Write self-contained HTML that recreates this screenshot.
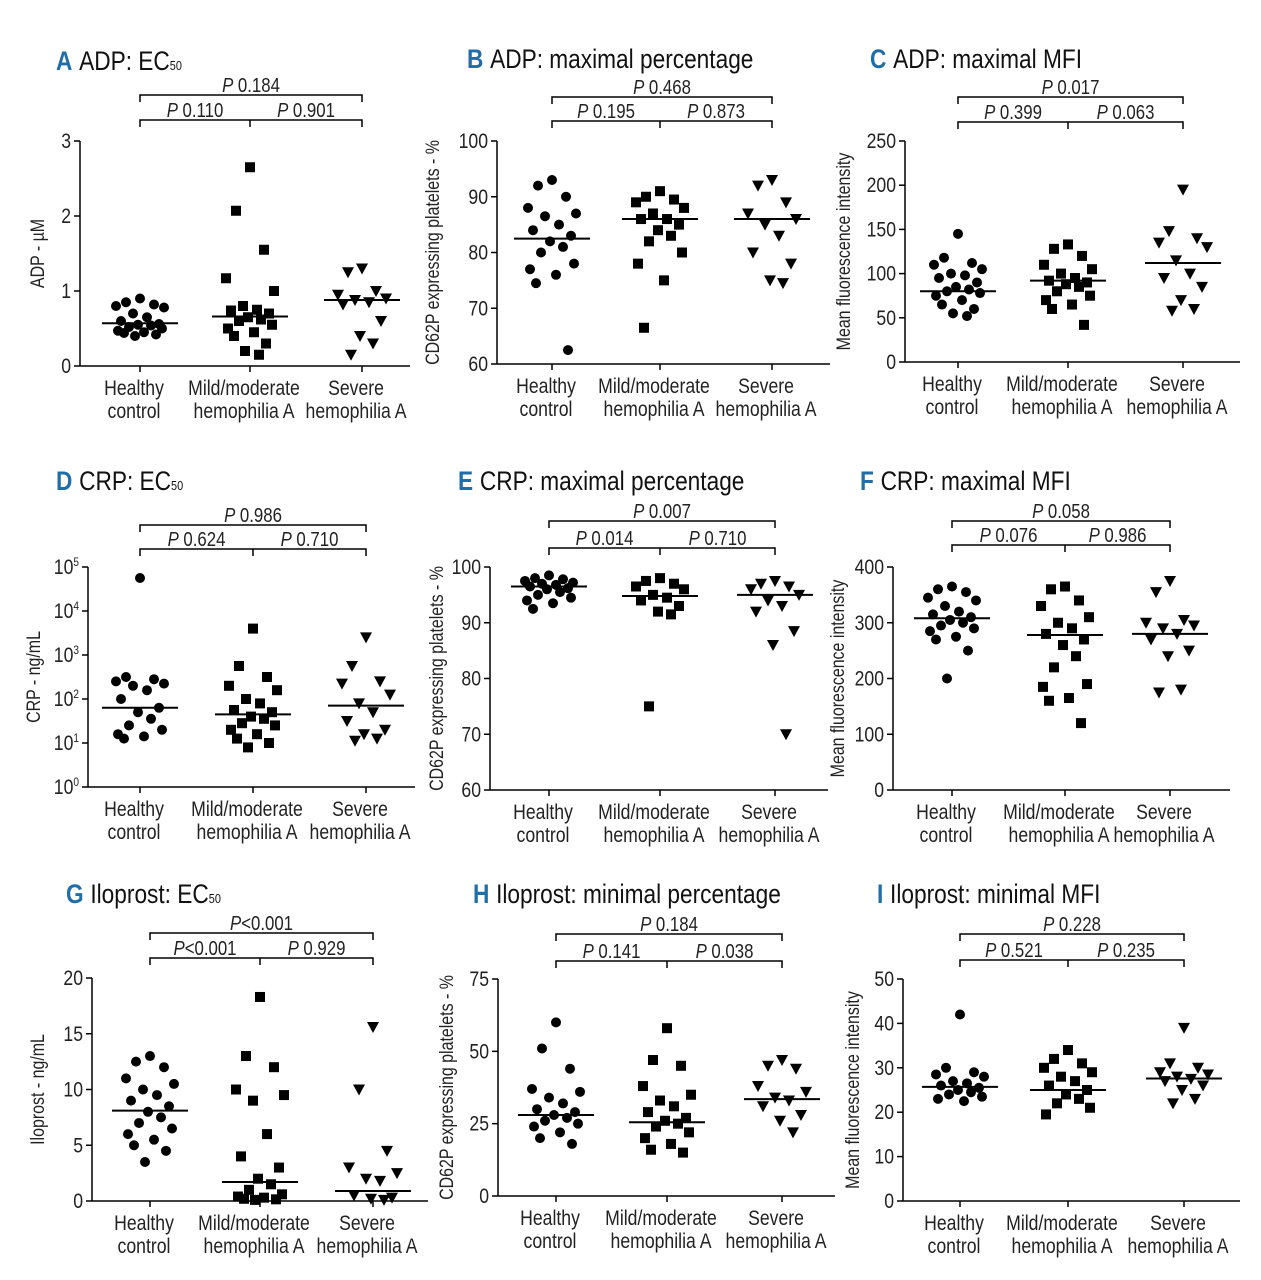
<!DOCTYPE html>
<html><head><meta charset="utf-8">
<style>
html,body{margin:0;padding:0;background:#fff;}
svg{display:block;font-family:"Liberation Sans",sans-serif;}
</style></head>
<body>
<svg id="chart" width="1261" height="1280" viewBox="0 0 1261 1280" xmlns="http://www.w3.org/2000/svg"></svg>
<script>
const categories = [["Healthy","control"],["Mild/moderate","hemophilia A"],["Severe","hemophilia A"]];
// Panel A
const aHealthy=[0.9,0.85,0.82,0.8,0.78,0.7,0.65,0.6,0.56,0.55,0.54,0.52,0.5,0.47,0.45,0.44,0.42,0.4];
const aMild=[2.65,2.07,1.55,1.17,1.0,0.8,0.75,0.74,0.7,0.65,0.62,0.6,0.55,0.5,0.45,0.4,0.3,0.2,0.15];
const aSevere=[1.3,1.25,1.0,0.95,0.9,0.88,0.85,0.82,0.6,0.4,0.3,0.15];
const aMeans=[0.57,0.66,0.88];
const aPvals=["P 0.184","P 0.110","P 0.901"];
// Panel B
const bHealthy=[93,92,90,88,87,86.5,85,84,83,82,81,80,78,77,76,74.5,62.5];
const bMild=[91,90,89.5,89,88,87,86,86,85,84,83,82,80,78,75,66.5];
const bSevere=[93,92,89,87,86,85,83,80,78,75,74.5];
const bMeans=[82.5,86,86];
const bPvals=["P 0.468","P 0.195","P 0.873"];
// Panel C
const cHealthy=[145,118,112,110,105,100,98,95,90,85,82,80,78,75,70,65,60,55,52];
const cMild=[133,128,120,110,105,100,95,92,90,88,85,80,75,70,65,60,42];
const cSevere=[195,148,140,135,130,115,100,95,85,70,60,58];
const cMeans=[80,92,112];
const cPvals=["P 0.017","P 0.399","P 0.063"];
// Panel D (log10 values)
const dHealthy=[4.75,2.5,2.45,2.4,2.35,2.3,2.2,2.0,1.8,1.7,1.55,1.4,1.3,1.2,1.15,1.1];
const dMild=[3.6,2.75,2.5,2.3,2.2,2.0,1.9,1.75,1.7,1.6,1.55,1.45,1.4,1.3,1.2,1.1,1.0,0.9];
const dSevere=[3.4,2.75,2.4,2.35,2.1,1.9,1.7,1.5,1.3,1.2,1.1,1.05];
const dMeans=[1.8,1.65,1.85];
const dPvals=["P 0.986","P 0.624","P 0.710"];
// Panel E
const eHealthy=[98.5,98,97.8,97.5,97.2,97,96.8,96.5,96.2,96,95.5,95,94.5,94,93.5,92.5];
const eMild=[98,97.5,97,96.5,96,95,94.5,94,93,92,91.5,75];
const eSevere=[97.5,97,96.5,96,95,94,93,92,88.5,86,70];
const eMeans=[96.5,94.8,95];
const ePvals=["P 0.007","P 0.014","P 0.710"];
// Panel F
const fHealthy=[365,360,355,345,340,330,320,315,310,305,300,295,290,285,275,270,250,200];
const fMild=[365,360,340,330,310,300,290,280,270,260,240,220,190,185,165,160,120];
const fSevere=[375,355,305,300,295,290,280,270,250,240,180,175];
const fMeans=[308,278,280];
const fPvals=["P 0.058","P 0.076","P 0.986"];
// Panel G
const gHealthy=[13,12.5,12,11,10.5,10,9.5,9,8.5,8,7.5,7,6.5,6,5.5,5,4.5,3.5];
const gMild=[18.3,13,12,10,9.5,9,6,4,3,2,1.5,1,0.6,0.4,0.3,0.2,0.15,0.1];
const gSevere=[15.6,10,4.5,3,2.5,2,1.8,0.5,0.3,0.2,0.1];
const gMeans=[8.1,1.7,0.9];
const gPvals=["P<0.001","P<0.001","P 0.929"];
// Panel H
const hHealthy=[60,51,44,37,36,34,32,30,29,28,27,26,25,24,22,20,18];
const hMild=[58,47,45,38,35,33,31,29,27,26,25,24,22,20,18,16,15];
const hSevere=[47,45,44,38,36,34,33,31,28,26,22];
const hMeans=[28,25.5,33.5];
const hPvals=["P 0.184","P 0.141","P 0.038"];
// Panel I
const iHealthy=[42,30,29,28.5,28,27,26.5,26,25.5,25,24.5,24,23.5,23,22.5];
const iMild=[34,32,31,30,29,28,27,26,25,24,23,22,21,19.5];
const iSevere=[39,31,30,29,28.5,28,27.5,27,26,25,23,22];
const iMeans=[25.7,25,27.6];
const iPvals=["P 0.228","P 0.521","P 0.235"];

const NS="http://www.w3.org/2000/svg";
const svg=document.getElementById('chart');
function mk(tag,attrs,parent){const e=document.createElementNS(NS,tag);for(const k in attrs)e.setAttribute(k,attrs[k]);(parent||svg).appendChild(e);return e;}
// condensed text helper
const SX=0.84;
function ctext(x,y,attrs,parent,rot){
 const a=Object.assign({x:0,y:0,transform:`translate(${x} ${y})${rot?' rotate(-90)':''} scale(${SX} 1)`},attrs);
 return mk('text',a,parent);
}
const jit=[0,-14,14,-24,24,-7,7,-19,19,-2,11,-11,22,-22,4,-16,16,-5,9];

const panels=[
 {id:'a',L:'A',title:'ADP: EC',sub:'50',tx:56,ty:70,ax:80,x1:410,yT:141,yB:366,min:0,max:3,ticks:[0,1,2,3],cx:[140,250,362],data:[aHealthy,aMild,aSevere],means:aMeans,p:aPvals,bt:95,bl:120,yl:'ADP - µM',ylx:44},
 {id:'b',L:'B',title:'ADP: maximal percentage',tx:467,ty:68,ax:497,x1:830,yT:141,yB:364,min:60,max:100,ticks:[60,70,80,90,100],cx:[552,660,772],data:[bHealthy,bMild,bSevere],means:bMeans,p:bPvals,bt:97,bl:121,yl:'CD62P expressing platelets - %',ylx:439},
 {id:'c',L:'C',title:'ADP: maximal MFI',tx:870,ty:68,ax:905,x1:1240,yT:141,yB:362,min:0,max:250,ticks:[0,50,100,150,200,250],cx:[958,1068,1183],data:[cHealthy,cMild,cSevere],means:cMeans,p:cPvals,bt:97,bl:122,yl:'Mean fluorescence intensity',ylx:850},
 {id:'d',L:'D',title:'CRP: EC',sub:'50',tx:56,ty:490,ax:88,x1:415,yT:567,yB:787,min:0,max:5,ticks:[0,1,2,3,4,5],log:true,cx:[140,253,366],data:[dHealthy,dMild,dSevere],means:dMeans,p:dPvals,bt:525,bl:549,yl:'CRP - ng/mL',ylx:40},
 {id:'e',L:'E',title:'CRP: maximal percentage',tx:458,ty:490,ax:490,x1:828,yT:567,yB:790,min:60,max:100,ticks:[60,70,80,90,100],cx:[549,660,775],data:[eHealthy,eMild,eSevere],means:eMeans,p:ePvals,bt:521,bl:548,yl:'CD62P expressing platelets - %',ylx:443},
 {id:'f',L:'F',title:'CRP: maximal MFI',tx:860,ty:490,ax:893,x1:1230,yT:567,yB:790,min:0,max:400,ticks:[0,100,200,300,400],cx:[952,1065,1170],data:[fHealthy,fMild,fSevere],means:fMeans,p:fPvals,bt:521,bl:545,yl:'Mean fluorescence intensity',ylx:844},
 {id:'g',L:'G',title:'Iloprost: EC',sub:'50',tx:66,ty:903,ax:92,x1:428,yT:978,yB:1201,min:0,max:20,ticks:[0,5,10,15,20],cx:[150,260,373],data:[gHealthy,gMild,gSevere],means:gMeans,p:gPvals,bt:933,bl:958,yl:'Iloprost - ng/mL',ylx:44},
 {id:'h',L:'H',title:'Iloprost: minimal percentage',tx:473,ty:903,ax:498,x1:835,yT:979,yB:1196,min:0,max:75,ticks:[0,25,50,75],cx:[556,667,782],data:[hHealthy,hMild,hSevere],means:hMeans,p:hPvals,bt:934,bl:961,yl:'CD62P expressing platelets - %',ylx:453},
 {id:'i',L:'I',title:'Iloprost: minimal MFI',tx:877,ty:903,ax:903,x1:1240,yT:979,yB:1201,min:0,max:50,ticks:[0,10,20,30,40,50],cx:[960,1068,1184],data:[iHealthy,iMild,iSevere],means:iMeans,p:iPvals,bt:934,bl:960,yl:'Mean fluorescence intensity',ylx:859}
];

panels.forEach(P=>{
 const g=mk('g',{});
 
 
 const y=v=>P.yB-(v-P.min)/(P.max-P.min)*(P.yB-P.yT);
 // title
 const t=ctext(P.tx,P.ty,{'font-size':27,fill:'#111'},g);
 
 
 const tl=mk('tspan',{fill:'#1f6ea8','font-weight':'bold'},t);tl.textContent=P.L;
 const tt=mk('tspan',{dx:8},t);tt.textContent=P.title;
 if(P.sub){const ts=mk('tspan',{'font-size':13},t);ts.textContent=P.sub;}
 // y axis
 const ya=mk('line',{x1:P.ax,x2:P.ax,y1:P.yT,y2:P.yB,stroke:'#000','stroke-width':1.5},g);
 
 
 P.ticks.forEach(v=>{
  mk('line',{x1:P.ax-6,x2:P.ax,y1:y(v),y2:y(v),stroke:'#000','stroke-width':1.5},g);
  const tx=ctext(P.ax-9,y(v)+7,{'text-anchor':'end','font-size':21,fill:'#222'},g);
  
  
  if(P.log){tx.textContent='10';const s=mk('tspan',{'font-size':12,dy:-8},tx);s.textContent=String(v);}
  else tx.textContent=String(v);
 });
 // x axis
 const xa=mk('line',{x1:P.ax,x2:P.x1,y1:P.yB,y2:P.yB,stroke:'#000','stroke-width':1.5},g);
 
 
 P.cx.forEach((cx,k)=>{
  mk('line',{x1:cx,x2:cx,y1:P.yB,y2:P.yB+6,stroke:'#000','stroke-width':1.5},g);
  categories[k].forEach((s,j)=>{
   const c=ctext(cx-6,P.yB+29+j*23,{'text-anchor':'middle','font-size':21,fill:'#222'},g);
   
   
   c.textContent=s;
  });
 });
 // y label
 const yc=(P.yT+P.yB)/2;
 const yl=mk('text',{x:0,y:0,'text-anchor':'middle','font-size':19,fill:'#222',transform:`translate(${P.ylx} ${yc}) rotate(-90) scale(${SX} 1)`},g);
 
 
 yl.textContent=P.yl;
 // brackets
 const [c0,c1,c2]=P.cx;
 mk('path',{d:`M${c0} ${P.bt+7}V${P.bt}H${c2}V${P.bt+7}`,fill:'none',stroke:'#000','stroke-width':1.5},g);
 mk('path',{d:`M${c0} ${P.bl+7}V${P.bl}H${c2}V${P.bl+7}M${c1} ${P.bl}V${P.bl+7}`,fill:'none',stroke:'#000','stroke-width':1.5},g);
 [[(c0+c2)/2,P.bt,P.p[0]],[(c0+c1)/2,P.bl,P.p[1]],[(c1+c2)/2,P.bl,P.p[2]]].forEach(([x,yy,s])=>{
  const pt=ctext(x,yy-3,{'text-anchor':'middle','font-size':20,fill:'#222'},g);
  
  
  const it=mk('tspan',{'font-style':'italic'},pt);it.textContent='P';
  const rs=mk('tspan',{},pt);rs.textContent=s.slice(1);
 });
 // points
 P.data.forEach((arr,k)=>{
  arr.forEach((v,i)=>{
   const px=P.cx[k]+jit[i%jit.length], py=y(v);
   let m;
   if(k===0) m=mk('circle',{cx:px,cy:py,r:5,fill:'#000'},g);
   else if(k===1) m=mk('rect',{x:px-5,y:py-5,width:10,height:10,fill:'#000'},g);
   else m=mk('path',{d:`M${px-6} ${py-5}H${px+6}L${px} ${py+6}Z`,fill:'#000'},g);
   
   
  });
  const ml=mk('line',{x1:P.cx[k]-38,x2:P.cx[k]+38,y1:y(P.means[k]),y2:y(P.means[k]),stroke:'#000','stroke-width':2},g);
  
  
 });
});
</script>
</body></html>
